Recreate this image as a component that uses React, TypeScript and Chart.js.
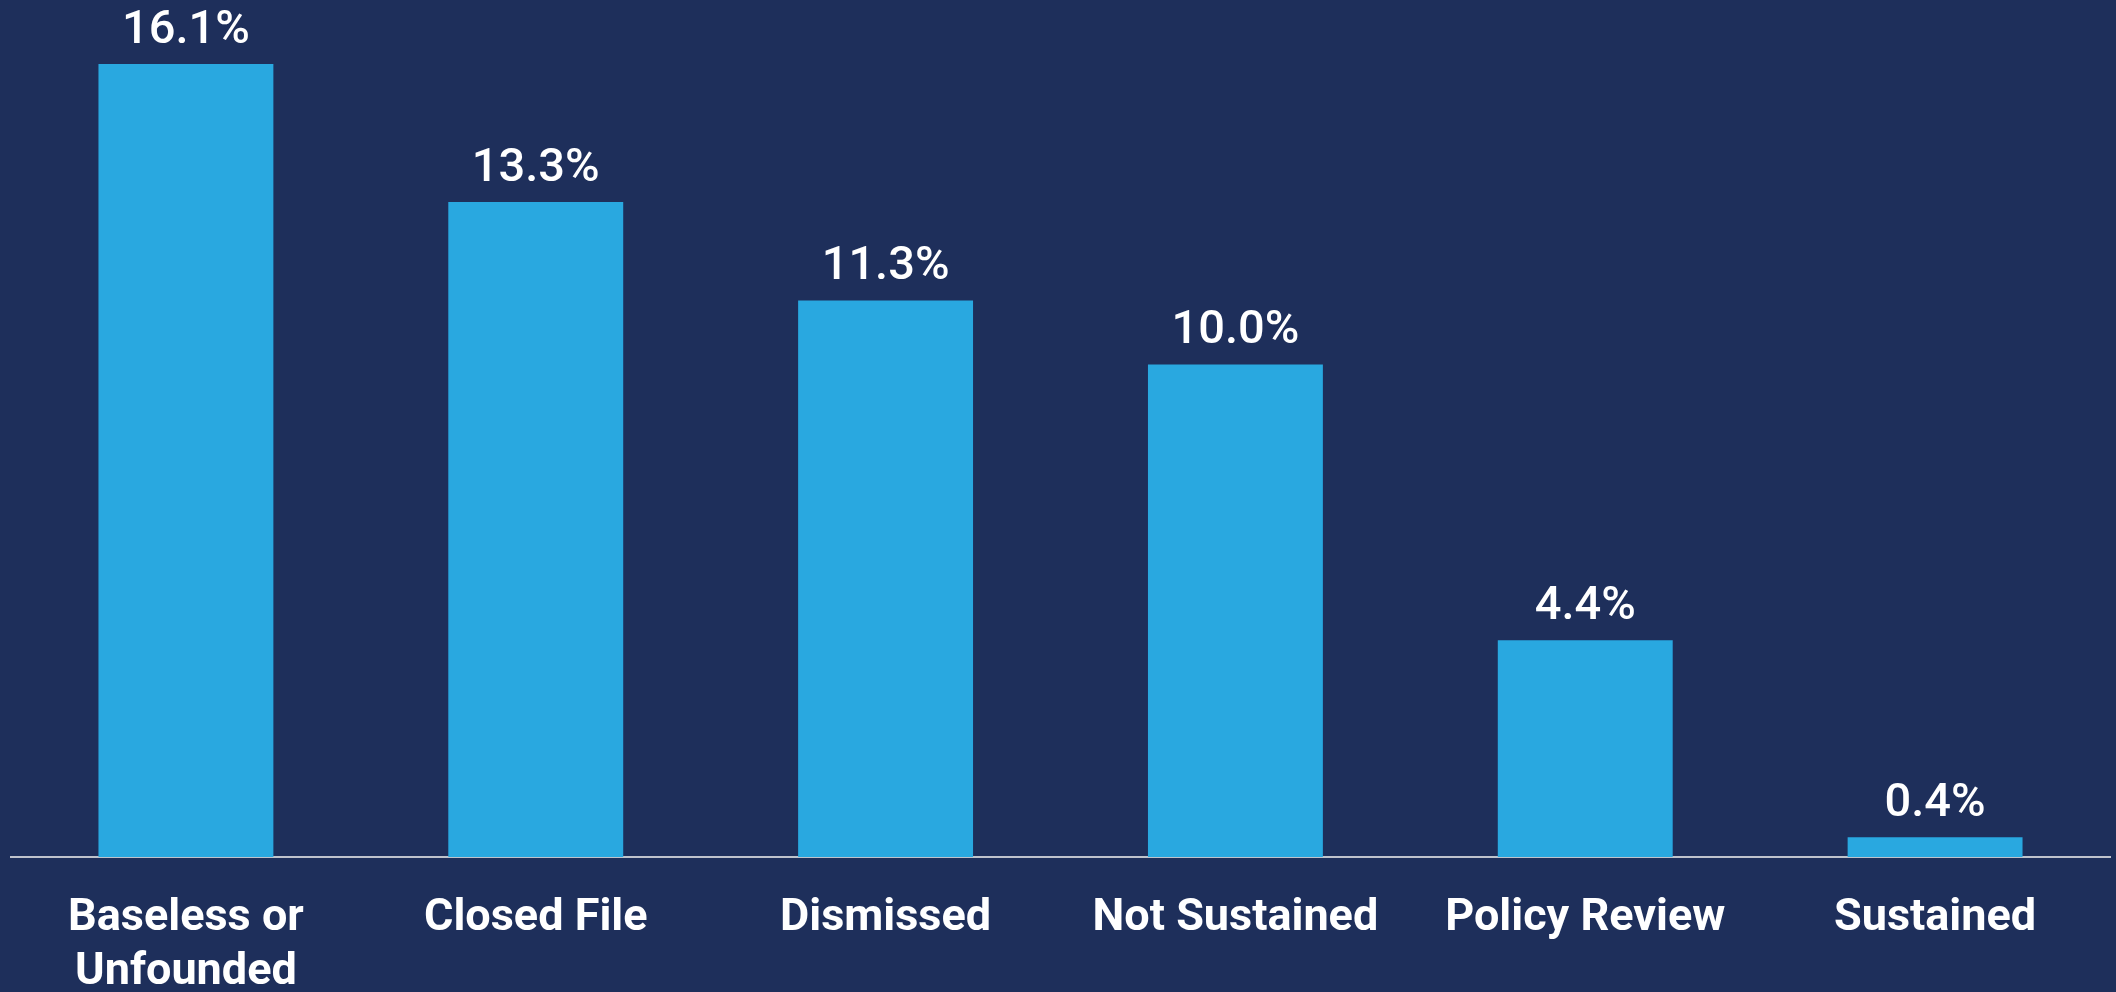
import React, { useEffect, useRef } from "react";
import { Chart, registerables } from "chart.js";

Chart.register(...registerables);

const categories: (string | string[])[] = [
  ["Baseless or", "Unfounded"],
  "Closed File",
  "Dismissed",
  "Not Sustained",
  "Policy Review",
  "Sustained",
];
const values: number[] = [16.1, 13.3, 11.3, 10.0, 4.4, 0.4];

const BG = "#1E2F5B";
const BAR = "#29A8E0";

const valueLabels = {
  id: "valueLabels",
  afterDatasetsDraw(chart: any) {
    const ctx = chart.ctx;
    const meta = chart.getDatasetMeta(0);
    ctx.save();
    ctx.fillStyle = "#FFFFFF";
    ctx.font = "500 47px Roboto, 'Liberation Sans', sans-serif";
    ctx.textAlign = "center";
    ctx.textBaseline = "alphabetic";
    meta.data.forEach((bar: any, i: number) => {
      const v = chart.data.datasets[0].data[i] as number;
      ctx.fillText(v.toFixed(1) + "%", bar.x, bar.y - 21);
    });
    ctx.restore();
  },
};

export default function App() {
  const ref = useRef<HTMLCanvasElement>(null);
  useEffect(() => {
    document.body.style.margin = "0";
    document.body.style.background = BG;
    const chart = new Chart(ref.current!, {
      type: "bar",
      data: {
        labels: categories,
        datasets: [
          {
            data: values,
            backgroundColor: BAR,
            borderWidth: 0,
            barPercentage: 0.5,
            categoryPercentage: 1,
          },
        ],
      },
      options: {
        responsive: false,
        animation: false,
        layout: { padding: { left: 11, right: 6, top: 0, bottom: 0 } },
        plugins: { legend: { display: false }, tooltip: { enabled: false } },
        scales: {
          x: {
            grid: { display: false, drawTicks: false },
            border: { display: true, color: "#BFC3CC", width: 2 },
            ticks: {
              color: "#FFFFFF",
              padding: 35,
              font: {
                family: "Roboto, 'Liberation Sans', sans-serif",
                size: 45,
                weight: "bold",
                lineHeight: 1.2,
              },
              maxRotation: 0,
              autoSkip: false,
            },
            afterFit: (s: any) => {
              s.height = 135;
            },
          },
          y: {
            display: false,
            min: 0,
            max: 17.4,
          },
        },
      },
      plugins: [valueLabels],
    });
    return () => chart.destroy();
  }, []);
  return (
    <div style={{ position: "absolute", left: 0, top: 0, width: 2116, height: 992, background: BG }}>
      <canvas ref={ref} width={2116} height={992} style={{ display: "block", width: 2116, height: 992 }} />
    </div>
  );
}
